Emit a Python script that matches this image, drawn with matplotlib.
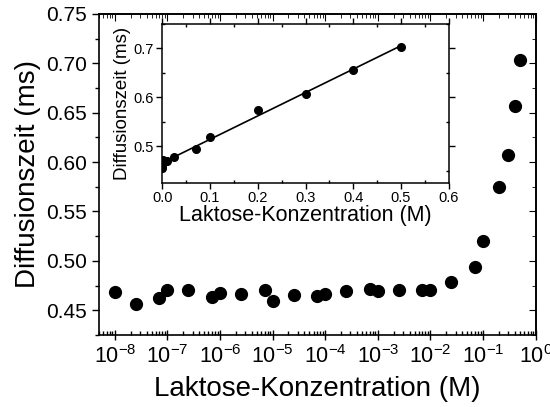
import numpy as np
import matplotlib.pyplot as plt
from matplotlib.ticker import MultipleLocator, LogLocator, NullFormatter

plt.rcParams['font.family'] = 'Liberation Sans'
plt.rcParams['mathtext.fontset'] = 'custom'
plt.rcParams['mathtext.rm'] = 'Liberation Sans'
plt.rcParams['mathtext.it'] = 'Liberation Sans'

# Laktose-Konzentration (M) und Diffusionszeit (ms)
konz = [1e-8, 2.5e-8, 7e-8, 1e-7, 2.5e-7, 7e-7, 1e-6, 2.5e-6, 7e-6, 1e-5,
        2.5e-5, 7e-5, 1e-4, 2.5e-4, 7e-4, 1e-3, 2.5e-3, 7e-3, 1e-2, 2.5e-2,
        7e-2, 0.1, 0.2, 0.3, 0.4, 0.5]
zeit = [0.468, 0.456, 0.462, 0.470, 0.471, 0.463, 0.467, 0.466, 0.471, 0.459,
        0.465, 0.464, 0.466, 0.469, 0.472, 0.469, 0.471, 0.471, 0.471, 0.479,
        0.494, 0.520, 0.575, 0.607, 0.657, 0.703]

konz = np.array(konz)
zeit = np.array(zeit)

fig = plt.figure(figsize=(5.5, 4.07), dpi=100)
ax = fig.add_axes([0.18, 0.177, 0.794, 0.789])

ax.plot(konz, zeit, 'o', color='black', ms=8.5)
ax.set_xscale('log')
ax.set_xlim(5e-9, 1)
ax.set_ylim(0.425, 0.75)
ax.xaxis.set_minor_locator(LogLocator(base=10, subs=np.arange(2, 10), numticks=20))
ax.xaxis.set_minor_formatter(NullFormatter())
ax.set_xticks([10.0**k for k in range(-8, 1)])
ax.set_xticklabels(['$10^{%d}$' % k for k in range(-8, 1)])
ax.yaxis.set_major_locator(MultipleLocator(0.05))
ax.yaxis.set_minor_locator(MultipleLocator(0.025))
ax.yaxis.set_major_formatter(plt.FormatStrFormatter('%.2f'))
ax.tick_params(axis='y', which='major', direction='out', length=5, width=1, labelsize=15)
ax.tick_params(axis='y', which='minor', direction='out', length=3, width=1)
ax.tick_params(axis='x', which='major', direction='inout', length=7, width=1, labelsize=15.5)
ax.tick_params(axis='x', which='minor', direction='in', length=3, width=1)
ax.set_xlabel('Laktose-Konzentration (M)', fontsize=20, labelpad=6)
ax.set_ylabel('Diffusionszeit (ms)', fontsize=20, labelpad=4)
for s in ax.spines.values():
    s.set_linewidth(1.2)

top = ax.secondary_xaxis('top')
top.set_xticks([10.0**k for k in range(-8, 1)])
top.xaxis.set_minor_locator(LogLocator(base=10, subs=np.arange(2, 10), numticks=20))
top.tick_params(which='major', direction='in', length=5, labeltop=False)
top.tick_params(which='minor', direction='in', length=3)
top.spines['top'].set_linewidth(1.2)
right = ax.secondary_yaxis('right')
right.yaxis.set_major_locator(MultipleLocator(0.05))
right.yaxis.set_minor_locator(MultipleLocator(0.025))
right.tick_params(which='major', direction='in', length=5, labelright=False)
right.tick_params(which='minor', direction='in', length=3)
right.spines['right'].set_linewidth(1.2)

# Einsatz: lineare Auftragung mit Geradenfit
ins = fig.add_axes([0.295, 0.55, 0.521, 0.391])
ins.plot(konz, zeit, 'o', color='black', ms=5.5)
m, b = np.polyfit(konz, zeit, 1)
xf = np.array([0, 0.5])
ins.plot(xf, m * xf + b, '-', color='black', lw=1.2)
ins.set_xlim(0, 0.6)
ins.set_ylim(0.425, 0.75)
ins.xaxis.set_major_locator(MultipleLocator(0.1))
ins.xaxis.set_minor_locator(MultipleLocator(0.05))
ins.yaxis.set_major_locator(MultipleLocator(0.1))
ins.yaxis.set_minor_locator(MultipleLocator(0.05))
ins.xaxis.set_major_formatter(plt.FormatStrFormatter('%.1f'))
ins.yaxis.set_major_formatter(plt.FormatStrFormatter('%.1f'))
ins.tick_params(which='major', direction='out', length=4, width=1, labelsize=10.5, pad=2)
ins.tick_params(which='minor', direction='in', length=2.5, width=1)
ins.tick_params(top=True, right=True, which='both')
ins.set_xlabel('Laktose-Konzentration (M)', fontsize=15.5, labelpad=0)
ins.set_ylabel('Diffusionszeit (ms)', fontsize=13.5, labelpad=2)
for s in ins.spines.values():
    s.set_linewidth(1.1)

fig.savefig('out.png', dpi=100)
